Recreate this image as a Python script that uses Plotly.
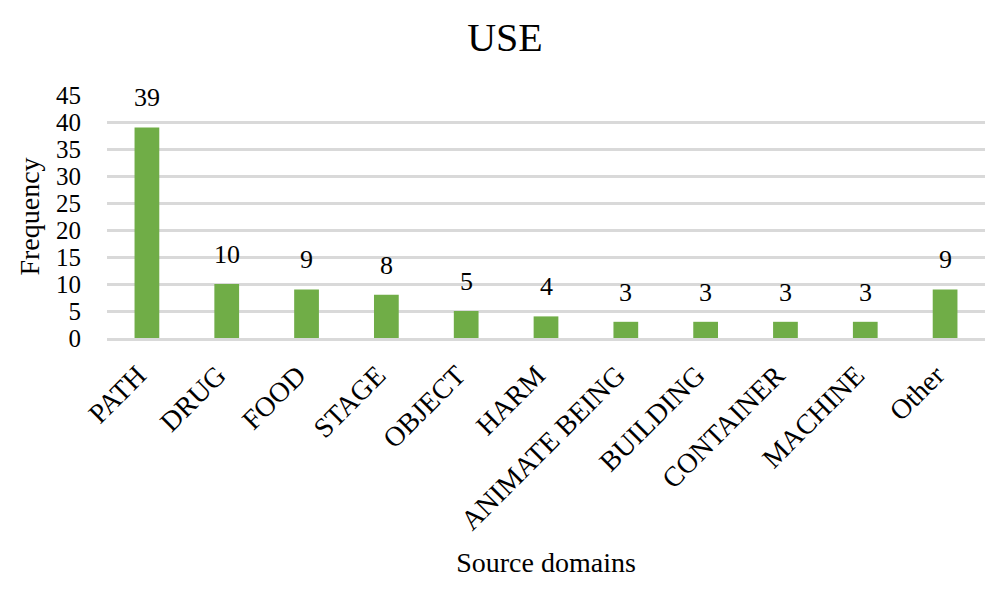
import plotly.graph_objects as go

# data
categories = ["PATH", "DRUG", "FOOD", "STAGE", "OBJECT", "HARM",
              "ANIMATE BEING", "BUILDING", "CONTAINER", "MACHINE", "Other"]
frequencies = [39, 10, 9, 8, 5, 4, 3, 3, 3, 3, 9]

BAR_COLOR = "#70AD47"
GRID_COLOR = "#D9D9D9"
FONT = "Liberation Serif, Times New Roman, serif"

# page body has an 8px margin, so the figure is drawn 8px smaller
FIG_W = 994
FIG_H = 588

fig = go.Figure(go.Bar(
    x=categories,
    y=frequencies,
    marker=dict(color=BAR_COLOR, line=dict(width=0)),
    width=0.31,
    hoverinfo="x+y",
))

# value labels above the bars
for cat, val in zip(categories, frequencies):
    fig.add_annotation(
        x=cat, y=val, text=str(val), showarrow=False,
        yanchor="bottom", yshift=13,
        font=dict(family=FONT, size=26, color="#000000"),
    )

fig.update_layout(
    title=dict(text="USE", x=0.5, xanchor="center", y=1 - 29 / FIG_H, yanchor="middle",
               font=dict(family=FONT, size=40, color="#000000")),
    width=FIG_W,
    height=FIG_H,
    margin=dict(l=99, r=17, t=87, b=258),
    plot_bgcolor="white",
    paper_bgcolor="white",
    showlegend=False,
    font=dict(family=FONT, color="#000000"),
    xaxis=dict(
        title=dict(text="Source domains", font=dict(family=FONT, size=28), standoff=18),
        tickangle=-45,
        tickfont=dict(family=FONT, size=28),
        ticklabelstandoff=7,
        ticklabelshift=-9,
        showgrid=False,
        showline=True,
        linecolor=GRID_COLOR,
        linewidth=2.5,
        ticks="",
    ),
    yaxis=dict(
        title=dict(text="Frequency", font=dict(family=FONT, size=28), standoff=8),
        range=[0, 45],
        dtick=5,
        tickfont=dict(family=FONT, size=25),
        ticklabelstandoff=25,
        showgrid=True,
        gridcolor=GRID_COLOR,
        gridwidth=2.5,
        zeroline=False,
        ticks="",
    ),
)

fig.write_html("out.html")
